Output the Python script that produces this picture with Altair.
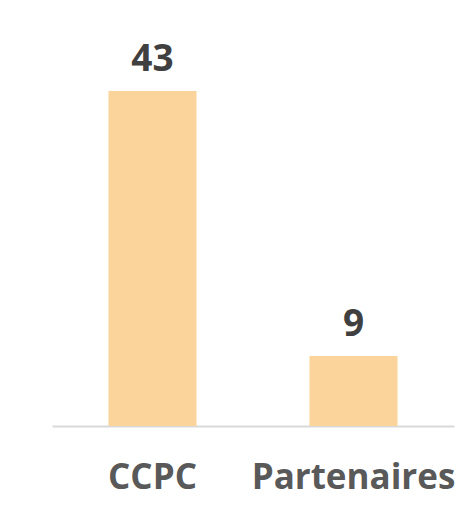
import altair as alt
import pandas as pd

categories = ["CCPC", "Partenaires"]
values = [43, 9]

df = pd.DataFrame({"cat": categories, "val": values})

base = alt.Chart(df).encode(
    x=alt.X(
        "cat:N",
        sort=categories,
        title=None,
        scale=alt.Scale(paddingInner=0.562, paddingOuter=0.281),
        axis=alt.Axis(
            labelAngle=0,
            ticks=False,
            tickSize=0,
            domainColor="#D9D9D9",
            domainWidth=2,
            labelFont="Open Sans",
            labelFontWeight="bold",
            labelFontSize=35,
            labelColor="#595959",
            labelBaseline="alphabetic",
            labelPadding=62,
            labelLimit=0,
        ),
    ),
    y=alt.Y("val:Q", scale=alt.Scale(domain=[0, 53.65], nice=False), axis=None),
)

bars = base.mark_bar(color="#FAD49A")
labels = base.mark_text(
    font="Open Sans",
    fontWeight="bold",
    fontSize=37,
    color="#404040",
    baseline="alphabetic",
    dy=-20,
).encode(text="val:Q")

chart = (
    alt.layer(bars, labels)
    .properties(
        width=402,
        height=418,
        autosize=alt.AutoSizeParams(type="none"),
        padding={"left": 44, "top": 0, "right": 10, "bottom": 78},
    )
    .configure_view(stroke=None)
)

chart.save("out.html", embed_options={"renderer": "svg", "actions": False})
